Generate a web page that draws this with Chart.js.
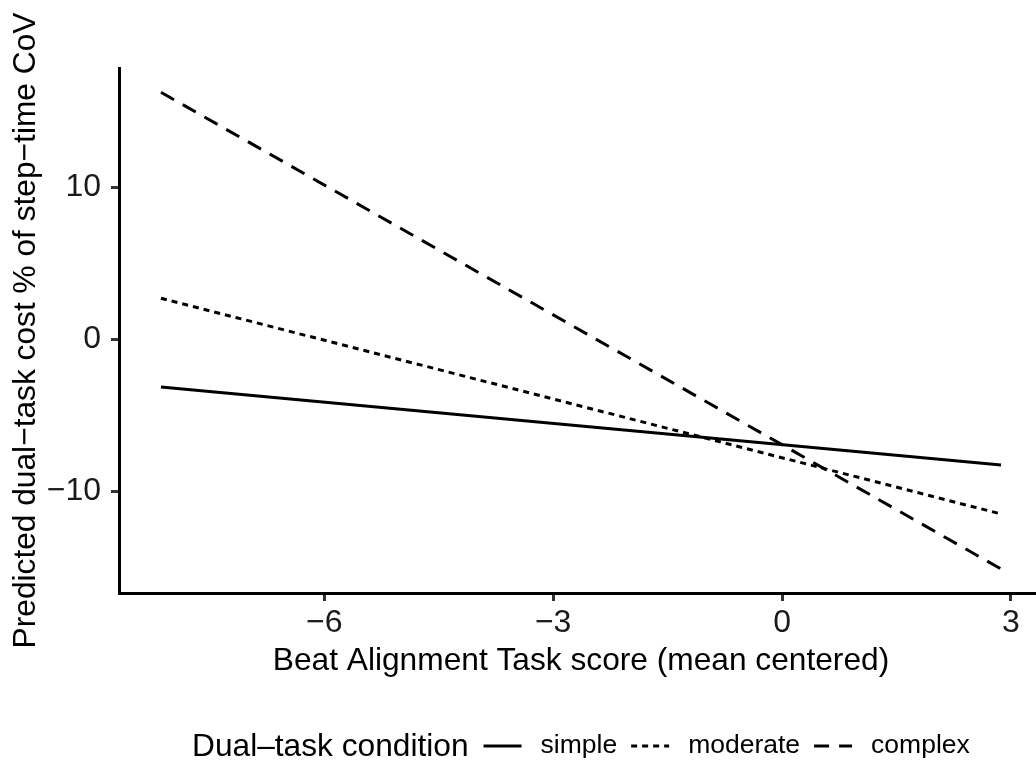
<!DOCTYPE html>
<html>
<head>
<meta charset="utf-8">
<script src="https://cdn.jsdelivr.net/npm/chart.js@4.4.1/dist/chart.umd.min.js"></script>
<style>
  html, body { margin: 0; padding: 0; overflow: hidden; background: #ffffff; width: 1036px; height: 766px; }
  #wrap { position: relative; width: 1050px; height: 766px; }
</style>
</head>
<body>
<div id="wrap"><canvas id="chart" width="1050" height="766"></canvas></div>
<script>
// Beat Alignment Task score (mean centered): ends of the fitted lines
const scoreRange = [-8.14, 2.87];
// Predicted dual-task cost (% of step-time CoV) at those two scores
const simpleCost = [-3.14, -8.27];
const moderateCost = [2.70, -11.49];
const complexCost = [16.25, -15.11];
const conditionLabels = ['simple', 'moderate', 'complex'];

const xTicks = [-6, -3, 0, 3];
const yTicks = [-10, 0, 10];
const xLimits = [-8.69, 3.42];
const yLimits = [-16.69, 17.85];

const FONT = "'Liberation Sans', Arial, Helvetica, sans-serif";
const TITLE_SIZE = 31.7;
const TICK_SIZE = 32;
const KEY_TEXT_SIZE = 26.5;

const toPoints = ys => ys.map((y, i) => ({ x: scoreRange[i], y }));
const fmt = v => (v < 0 ? '\u2212' + Math.abs(v) : String(v));

const dashStyles = [[], [6, 5], [15, 10]];
const seriesValues = [simpleCost, moderateCost, complexCost];

const datasets = conditionLabels.map((label, i) => ({
  label,
  data: toPoints(seriesValues[i]),
  borderColor: '#000000',
  backgroundColor: '#000000',
  borderWidth: 3,
  borderDash: dashStyles[i],
  borderCapStyle: 'butt',
  pointRadius: 0,
  tension: 0,
  fill: false
}));

// Horizontal legend at the bottom: title, then key line + label for each condition
const bottomLegend = {
  id: 'bottomLegend',
  afterDraw(chart) {
    const ctx = chart.ctx;
    const y = 746;
    ctx.save();
    ctx.fillStyle = '#000';
    ctx.textBaseline = 'middle';
    ctx.textAlign = 'left';
    ctx.font = `${TITLE_SIZE}px ${FONT}`;
    const title = 'Dual\u2013task condition';
    let x = 192;
    ctx.fillText(title, x, y + 1);
    x += ctx.measureText(title).width + 15;
    ctx.font = `${KEY_TEXT_SIZE}px ${FONT}`;
    const keyW = 38;
    chart.data.datasets.forEach(ds => {
      ctx.strokeStyle = ds.borderColor;
      ctx.lineWidth = ds.borderWidth;
      ctx.lineCap = 'butt';
      ctx.setLineDash(ds.borderDash || []);
      ctx.beginPath();
      ctx.moveTo(x, y);
      ctx.lineTo(x + keyW, y);
      ctx.stroke();
      ctx.setLineDash([]);
      const lx = x + 57;
      ctx.fillText(ds.label, lx, y);
      x = lx + ctx.measureText(ds.label).width + 14;
    });
    ctx.restore();
  }
};

new Chart(document.getElementById('chart'), {
  type: 'line',
  data: { datasets },
  plugins: [bottomLegend],
  options: {
    responsive: false,
    animation: false,
    layout: { padding: { left: 0, right: 7, top: 68, bottom: 83 } },
    plugins: { legend: { display: false }, tooltip: { enabled: false } },
    scales: {
      x: {
        type: 'linear',
        min: xLimits[0],
        max: xLimits[1],
        afterBuildTicks: s => { s.ticks = xTicks.map(v => ({ value: v })); },
        afterFit: s => { s.height = 90; },
        ticks: {
          callback: v => fmt(v),
          font: { family: FONT, size: TICK_SIZE },
          color: '#1a1a1a',
          padding: 3,
          maxRotation: 0,
          autoSkip: false
        },
        grid: {
          drawOnChartArea: false,
          drawTicks: true,
          tickLength: 8,
          tickWidth: 3,
          tickColor: '#333333',
          color: '#333333',
          lineWidth: 3
        },
        border: { display: true, color: '#000000', width: 3 },
        title: {
          display: true,
          text: 'Beat Alignment Task score (mean centered)',
          font: { family: FONT, size: TITLE_SIZE },
          color: '#000000',
          padding: { top: 0, bottom: 2.5 }
        }
      },
      y: {
        type: 'linear',
        min: yLimits[0],
        max: yLimits[1],
        afterBuildTicks: s => { s.ticks = yTicks.map(v => ({ value: v })); },
        afterFit: s => { s.width = 119; },
        ticks: {
          callback: v => fmt(v),
          font: { family: FONT, size: TICK_SIZE },
          color: '#1a1a1a',
          padding: 10,
          autoSkip: false
        },
        grid: {
          drawOnChartArea: false,
          drawTicks: true,
          tickLength: 8,
          tickWidth: 3,
          tickColor: '#333333',
          color: '#333333',
          lineWidth: 3
        },
        border: { display: true, color: '#000000', width: 3 },
        title: {
          display: true,
          text: 'Predicted dual\u2212task cost % of step\u2212time CoV',
          font: { family: FONT, size: TITLE_SIZE },
          color: '#000000',
          padding: { top: 7, bottom: 0 }
        }
      }
    }
  }
});
</script>
</body>
</html>
